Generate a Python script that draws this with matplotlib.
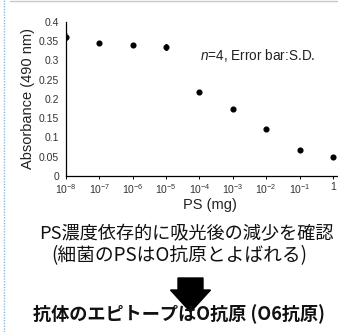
import matplotlib
matplotlib.use("Agg")
import matplotlib.pyplot as plt
from matplotlib.patches import FancyArrow
from matplotlib.lines import Line2D

ps_mg = [1e-8, 1e-7, 1e-6, 1e-5, 1e-4, 1e-3, 1e-2, 1e-1, 1]
absorbance = [0.362, 0.346, 0.341, 0.335, 0.219, 0.173, 0.122, 0.068, 0.048]
sd = [0.008, 0.003, 0.003, 0.008, 0.003, 0.004, 0.002, 0.005, 0.002]
xticks = [1e-8, 1e-7, 1e-6, 1e-5, 1e-4, 1e-3, 1e-2, 1e-1, 1]
xticklabels = [r"10$^{-8}$", r"10$^{-7}$", r"10$^{-6}$", r"10$^{-5}$", r"10$^{-4}$",
               r"10$^{-3}$", r"10$^{-2}$", r"10$^{-1}$", "1"]
yticks = [0, 0.05, 0.1, 0.15, 0.2, 0.25, 0.3, 0.35, 0.4]
yticklabels = ["0", "0.05", "0.1", "0.15", "0.2", "0.25", "0.3", "0.35", "0.4"]

plt.rcParams['font.family'] = ['Liberation Sans', 'DejaVu Sans']
plt.rcParams['mathtext.fontset'] = 'custom'
plt.rcParams['mathtext.rm'] = 'Liberation Sans'
plt.rcParams['mathtext.it'] = 'Liberation Sans:italic'

fig = plt.figure(figsize=(3.38, 3.32), dpi=100)
ax = fig.add_axes([0.195, 0.47, 0.805, 0.464])
ax.errorbar(ps_mg, absorbance, yerr=sd, fmt='o', color='black', ms=3.4,
            elinewidth=0.8, capsize=0.8, capthick=0.6)
ax.set_xscale('log')
ax.set_xlim(1e-8, 10**0.15)
ax.set_ylim(0, 0.4)
ax.set_xticks(xticks)
ax.set_xticklabels(xticklabels, fontsize=7.5, color='#333333')
ax.minorticks_off()
ax.set_yticks(yticks)
ax.set_yticklabels(yticklabels, fontsize=7.5, color='#333333')
ax.tick_params(axis='x', length=2.5, width=0.7, pad=2)
ax.tick_params(axis='y', length=0, pad=5)
ax.spines['top'].set_visible(False)
ax.spines['right'].set_visible(False)
ax.spines['left'].set_linewidth(0.9)
ax.spines['bottom'].set_linewidth(0.9)
ax.set_xlabel("PS (mg)", fontsize=10.5, color='#222222')
ax.xaxis.set_label_coords(0.53, -0.14)
ax.set_ylabel("Absorbance (490 nm)", fontsize=10.5, color='#222222', labelpad=3)
ax.text(0.493, 0.78, r"$\it{n}$=4, Error bar:S.D.", transform=ax.transAxes,
        fontsize=9.8, color='#222222', ha='left', va='center')

# decoration lines (frame remnants)
fig.add_artist(Line2D([3.5/338, 3.5/338], [0, 1], color='#88b8e0', lw=1.0,
                      linestyle=(0, (1, 1)), transform=fig.transFigure))
fig.add_artist(Line2D([10/338, 1], [331.5/332, 331.5/332], color='#c8c8c8', lw=1.0,
                      transform=fig.transFigure))

jp = ['Noto Sans CJK JP', 'DejaVu Sans']
fig.text(186/338, 1 - 234/332, "PS濃度依存的に吸光後の減少を確認", family=jp,
         fontsize=13.1, ha='center', va='center', color='#111111')
fig.text(179/338, 1 - 256/332, "(細菌のPSはO抗原とよばれる)", family=jp,
         fontsize=13.5, ha='center', va='center', color='#111111')

arrow = FancyArrow(190.5/338, 1 - 278/332, 0, -(34/332), width=25/338,
                   head_width=40/338, head_length=22/332, length_includes_head=True,
                   color='black', transform=fig.transFigure)
fig.add_artist(arrow)

fig.text(179/338, 1 - 314/332, "抗体のエピトープはO抗原 (O6抗原)", family=jp,
         fontsize=13.1, fontweight='bold', ha='center', va='center', color='#111111')

fig.savefig("out.png", dpi=100)
